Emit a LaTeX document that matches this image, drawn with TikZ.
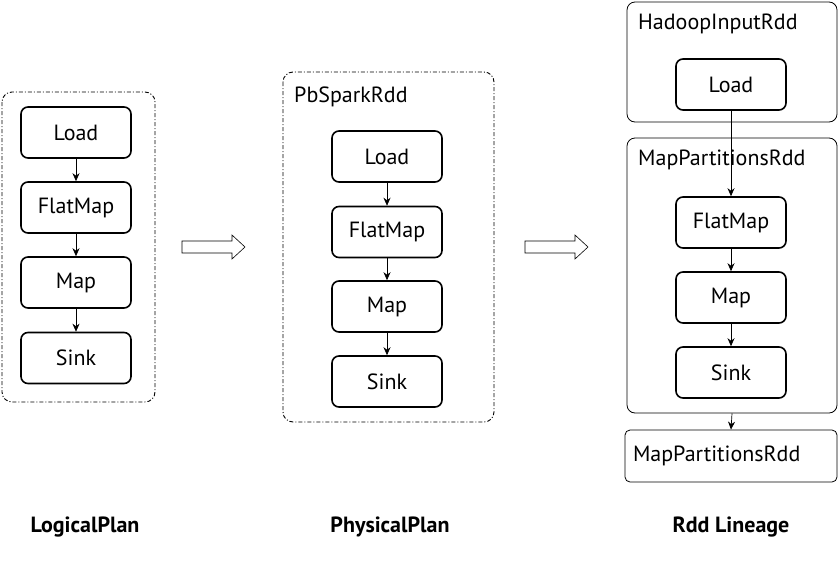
\documentclass[tikz,border=0pt]{standalone}
\usepackage{fontspec}
\setmainfont{PT Sans}
\usetikzlibrary{arrows.meta}
\begin{document}
\begin{tikzpicture}[x=1pt,y=-1pt,
  opbox/.style={draw,line width=1.6pt,rounded corners=7pt,minimum width=110pt,minimum height=51pt,inner sep=0pt,font=\fontsize{22}{24}\selectfont},
  groupbox/.style={draw,line width=0.9pt,dash pattern=on 4pt off 2pt on 1pt off 2pt,rounded corners=10pt},
  rddbox/.style={draw,line width=0.8pt,rounded corners=8pt},
  flow/.style={-{Stealth[length=8pt,width=7pt]},line width=0.7pt},
  blockarrow/.style={draw,line width=0.6pt,fill=white},
  title/.style={font=\fontsize{22}{24}\selectfont,anchor=west,inner sep=0pt},
  caption/.style={font=\bfseries\fontsize{22}{24}\selectfont,inner sep=0pt}]
\useasboundingbox (0,0) rectangle (840,560);
% Logical plan
\draw[groupbox] (2,92) rectangle (155,402);
\node[opbox] (l1) at (76,132.5) {Load};
\node[opbox] (l2) at (76,207.5) {FlatMap};
\node[opbox] (l3) at (76,282.5) {Map};
\node[opbox] (l4) at (76,358) {Sink};
\draw[flow] (l1) -- (l2);
\draw[flow] (l2) -- (l3);
\draw[flow] (l3) -- (l4);
% block arrows
\draw[blockarrow] (182,241) -- (232,241) -- (232,235) -- (245,247) -- (232,259) -- (232,253) -- (182,253) -- cycle;
\draw[blockarrow] (525,241) -- (575,241) -- (575,235) -- (588,247) -- (575,259) -- (575,253) -- (525,253) -- cycle;
% Physical plan
\draw[groupbox] (283,72) rectangle (494,422);
\node[title] (pt) at (294,97) {PbSparkRdd};
\node[opbox] (p1) at (387,156.5) {Load};
\node[opbox] (p2) at (387,232) {FlatMap};
\node[opbox] (p3) at (387,306.5) {Map};
\node[opbox] (p4) at (387,381.5) {Sink};
\draw[flow] (p1) -- (p2);
\draw[flow] (p2) -- (p3);
\draw[flow] (p3) -- (p4);
% Rdd lineage
\node[rddbox,minimum width=210pt,minimum height=120pt] (h) at (732,62) {};
\node[title] (ht) at (638,24) {HadoopInputRdd};
\node[opbox] (r1) at (731,84.5) {Load};
\node[rddbox,minimum width=210pt,minimum height=275pt] (m) at (732,275.5) {};
\node[title] (mt) at (638,160) {MapPartitionsRdd};
\node[opbox] (r2) at (731,222.5) {FlatMap};
\node[opbox] (r3) at (731,297.5) {Map};
\node[opbox] (r4) at (731,372.5) {Sink};
\node[rddbox,rounded corners=5pt,minimum width=212pt,minimum height=52pt,font=\fontsize{22}{24}\selectfont,text width=196pt,align=left] (last) at (731,456) {MapPartitionsRdd};
\draw[flow] (r1) -- (r2);
\draw[flow] (r2) -- (r3);
\draw[flow] (r3) -- (r4);
\draw[flow] (m.south) -- (last.north);
% captions
\node[caption] (c1) at (85,527) {LogicalPlan};
\node[caption] (c2) at (390,527) {PhysicalPlan};
\node[caption] (c3) at (731,527) {Rdd Lineage};
\end{tikzpicture}
\end{document}
